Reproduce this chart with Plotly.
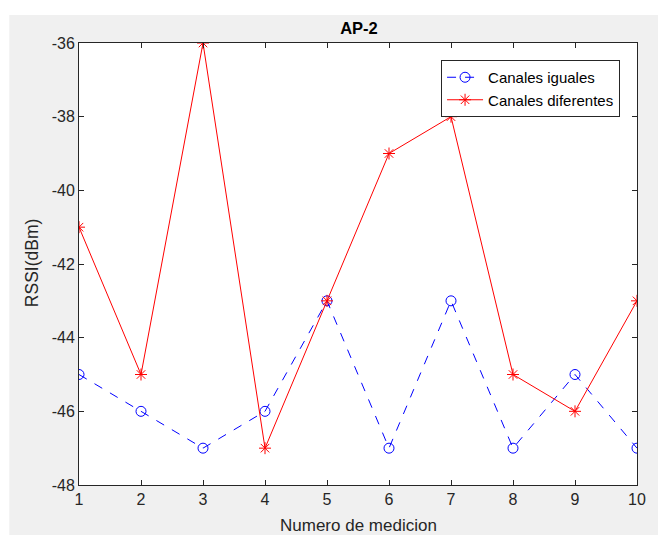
import plotly.graph_objects as go

medicion = [1, 2, 3, 4, 5, 6, 7, 8, 9, 10]
canales_iguales = [-45, -46, -47, -46, -43, -47, -43, -47, -45, -47]
canales_diferentes = [-41, -45, -36, -47, -43, -39, -38, -45, -46, -43]
y_ticks = [-48, -46, -44, -42, -40, -38, -36]
y_tick_labels = ["-48", "-46", "-44", "-42", "-40", "-38", "-36"]
x_tick_labels = ["1", "2", "3", "4", "5", "6", "7", "8", "9", "10"]

W, H = 658, 535
L, R, T, B = 79, 19, 43, 50
FONT = "Liberation Sans, Arial, Helvetica"
AXC = "#262626"

fig = go.Figure()
fig.add_trace(go.Scatter(
    x=medicion, y=canales_iguales, mode="lines+markers", name="Canales iguales",
    line=dict(color="#0000ff", width=1, dash="dash"),
    marker=dict(symbol="circle-open", size=10, color="#0000ff", line=dict(width=1, color="#0000ff")),
))
fig.add_trace(go.Scatter(
    x=medicion, y=canales_diferentes, mode="lines+markers", name="Canales diferentes",
    line=dict(color="#ff0000", width=1),
    marker=dict(symbol="asterisk-open", size=10, color="#ff0000", line=dict(width=1, color="#ff0000")),
))

pw = W - L - R
ph = H - T - B
# white strips at top and left of the figure
fig.add_shape(type="rect", xref="paper", yref="paper",
              x0=-L / pw - 0.01, x1=(W - L) / pw + 0.01,
              y0=(H - B - 15) / ph, y1=(H - B) / ph + 0.01,
              fillcolor="white", line=dict(width=0), layer="below")
fig.add_shape(type="rect", xref="paper", yref="paper",
              x0=-L / pw - 0.01, x1=(9 - L) / pw,
              y0=-B / ph - 0.01, y1=(H - B) / ph + 0.01,
              fillcolor="white", line=dict(width=0), layer="below")

axis_common = dict(
    showgrid=False, zeroline=False, showline=True, linecolor=AXC, linewidth=1,
    mirror="ticks", ticks="inside", ticklen=5, tickcolor=AXC,
    tickfont=dict(family=FONT, size=16, color=AXC),
)
fig.update_xaxes(range=[1, 10], tickvals=medicion, ticktext=x_tick_labels, **axis_common)
fig.update_yaxes(range=[-48, -36], tickvals=y_ticks, ticktext=y_tick_labels, **axis_common)

fig.add_annotation(text="Numero de medicion", xref="paper", yref="paper",
                   x=0.5, y=(H - B - 525) / ph, xanchor="center", yanchor="middle",
                   showarrow=False, font=dict(family=FONT, size=17, color=AXC))
fig.add_annotation(text="RSSI(dBm)", xref="paper", yref="paper",
                   x=(32 - L) / pw, y=(H - B - 263) / ph, xanchor="center", yanchor="middle",
                   textangle=-90, showarrow=False, font=dict(family=FONT, size=17.5, color=AXC))

fig.update_layout(
    width=W, height=H,
    margin=dict(l=L, r=R, t=T, b=B),
    paper_bgcolor="#f0f0f0", plot_bgcolor="white",
    title=dict(text="<b>AP-2</b>", x=(L + pw / 2) / W, xanchor="center", y=1 - 28 / H, yanchor="middle",
               font=dict(family=FONT, size=16.5, color="black")),
    legend=dict(x=(622 - L) / pw, y=(H - B - 60) / ph, xanchor="right", yanchor="top",
                bgcolor="white", bordercolor=AXC, borderwidth=1,
                font=dict(family=FONT, size=15, color="black"),
                tracegroupgap=0, itemwidth=36),
    showlegend=True,
)

fig.write_html("out.html")
